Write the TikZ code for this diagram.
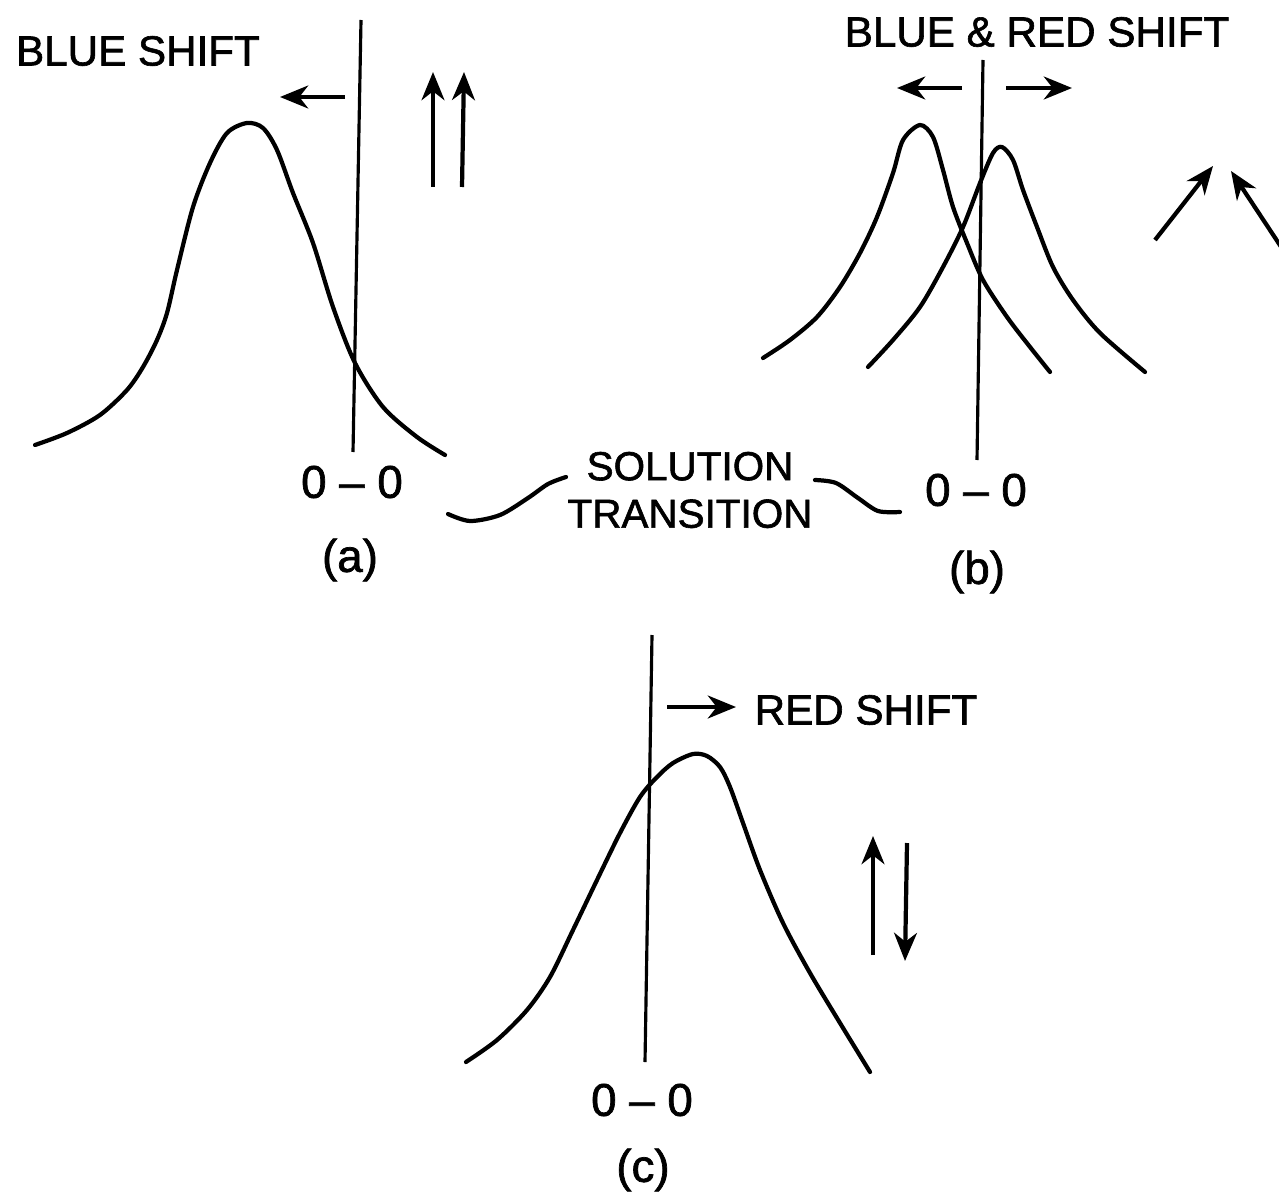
\documentclass[tikz,border=0pt]{standalone}
\usepackage{fontspec}
\setmainfont{Liberation Sans}
\newfontfamily\lettering{Liberation Sans}[Ligatures=TeX, FakeBold=1.5]
\usetikzlibrary{arrows.meta}

\begin{document}
\begin{tikzpicture}[
    x=0.01cm, y=-0.01cm,
    curve/.style={line width=1.2pt, line cap=round, line join=round},
    zeroline/.style={line width=0.9pt},
    arr/.style={-{Stealth[length=8pt, width=6.5pt, inset=2.5pt]}, line width=1.2pt},
    lbl/.style={font=\lettering\fontsize{12}{14}\selectfont, inner sep=0pt},
    tag/.style={font=\lettering\fontsize{13}{15}\selectfont, inner sep=0pt}
]
    \useasboundingbox (0,0) rectangle (1279,1191);
    \clip (0,0) rectangle (1279,1191);

    % (a)
    \draw[zeroline] (361,20) -- (353,452);
    \draw[curve] plot[smooth, tension=0.5] coordinates {(35,445) (67,433) (100,415) (127,390) (143,367) (157,340) (167,313) (177,270) (193,207) (210,163) (227,133) (247,123) (263,128) (277,150) (293,193) (313,243) (333,307) (355,363) (383,407) (417,437) (445,455)};
    \node[lbl] (blueA) at (138,51) {BLUE SHIFT};
    \draw[arr] (345,97) -- (280,97);
    \draw[arr] (433,187) -- (433,72);
    \draw[arr] (462,187) -- (464,72);
    \node[tag] (zeroA) at (352,482) {0 -- 0};
    \node[tag] (capA) at (350,560) {(a)};

    % (b)
    \draw[zeroline] (983,60) -- (977,460);
    \draw[curve] plot[smooth, tension=0.5] coordinates {(763,358) (790,340) (817,317) (840,287) (860,253) (877,217) (893,173) (903,140) (920,125) (933,137) (943,170) (953,207) (967,243) (983,280) (1007,317) (1030,347) (1050,372)};
    \draw[curve] plot[smooth, tension=0.5] coordinates {(868,367) (893,340) (920,307) (943,267) (963,227) (980,183) (993,153) (1002,147) (1013,160) (1023,190) (1037,227) (1053,267) (1073,300) (1100,333) (1145,372)};
    \node[lbl] (bothB) at (1037,32) {BLUE \& RED SHIFT};
    \draw[arr] (962,88) -- (897,88);
    \draw[arr] (1006,88) -- (1072,88);
    \draw[arr] (1155,240) -- (1213,166);
    \draw[arr] (1295,268) -- (1231,171);
    \node[tag] (zeroB) at (976,490) {0 -- 0};
    \node[tag] (capB) at (977,572) {(b)};

    % solution transition
    \node[lbl, font=\lettering\fontsize{11.5}{13.5}\selectfont, align=center] (sol) at (690,490) {SOLUTION\\TRANSITION};
    \draw[curve] plot[smooth] coordinates {(448,514) (470,521) (500,515) (528,498) (548,484) (566,477)};
    \draw[curve] plot[smooth] coordinates {(815,480) (836,483) (858,498) (878,511) (900,512)};

    % (c)
    \draw[zeroline] (652,635) -- (645,1062);
    \draw[curve] plot[smooth, tension=0.5] coordinates {(466,1062) (497,1040) (527,1010) (550,977) (573,930) (597,880) (620,833) (640,797) (657,777) (673,763) (693,754) (707,756) (720,767) (730,787) (743,823) (760,870) (783,923) (810,973) (840,1023) (870,1072)};
    \node[lbl] (redC) at (866,710) {RED SHIFT};
    \draw[arr] (667,707) -- (736,707);
    \draw[arr] (873,955) -- (873,836);
    \draw[arr] (907,843) -- (905,961);
    \node[tag] (zeroC) at (642,1100) {0 -- 0};
    \node[tag] (capC) at (643,1170) {(c)};
\end{tikzpicture}
\end{document}
